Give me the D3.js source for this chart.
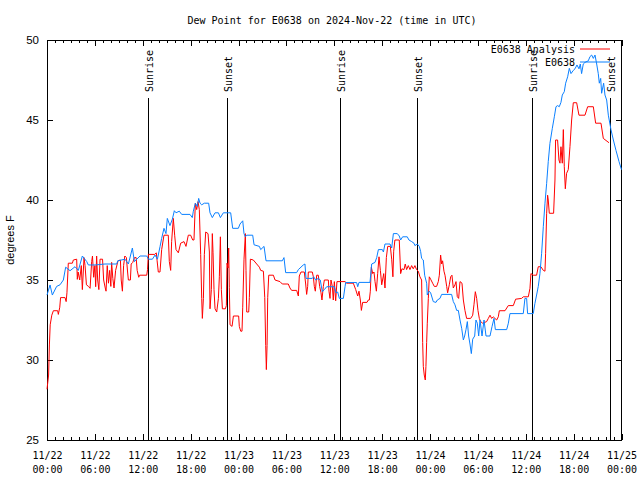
<!DOCTYPE html>
<html><head><meta charset="utf-8">
<script src="https://cdn.jsdelivr.net/npm/d3@7"></script>
<style>body{margin:0;background:#fff}svg{display:block}</style>
</head><body>
<svg id="c" width="640" height="480"></svg>
<script>
const title = "Dew Point for E0638 on 2024-Nov-22 (time in UTC)";
const yLabel = "degrees F";
const seriesNames = ["E0638 Analysis", "E0638"];
const seriesColors = ["#ff0000", "#0a80ff"];

// hours since 2024-11-22 00:00 UTC
const redHours = [0,0.2,0.3,0.4,0.6,0.8,1.34,1.42,1.6,1.7,2.26,2.4,2.5,2.67,3.18,3.3,3.72,3.8,3.9,4.1,4.3,4.43,4.64,4.77,4.94,5.2,5.4,5.6,5.7,5.85,6.0,6.1,6.22,6.35,6.5,6.65,6.96,7.1,7.3,7.4,7.55,7.7,7.85,8.0,8.1,8.25,8.4,8.6,8.9,9.2,9.3,9.45,9.6,9.75,9.95,10.1,10.2,10.45,10.55,10.75,10.96,11.17,11.3,11.5,11.6,12.5,12.6,12.7,13.5,13.7,13.8,13.95,14.16,14.37,14.66,15.2,15.33,15.5,15.62,15.83,16.0,16.17,16.46,16.75,17.17,17.42,17.71,18.0,18.26,18.42,18.59,18.76,18.93,19.09,19.26,19.39,19.47,19.6,19.72,19.89,20.18,20.35,20.43,20.6,20.72,20.81,20.93,21.06,21.27,21.48,21.6,21.73,21.85,21.98,22.35,22.48,22.56,22.69,22.77,22.85,22.94,23.19,23.36,24.02,24.1,24.28,24.44,24.53,24.69,24.86,24.94,25.03,25.28,25.36,25.49,25.86,26.28,26.62,26.78,27.12,27.29,27.41,27.49,27.58,27.66,27.79,28.37,28.58,29.2,29.49,30.24,30.45,30.66,31.29,31.5,31.62,31.83,32.25,32.42,32.54,32.67,32.75,33.25,33.38,33.5,33.63,33.8,34.0,34.17,34.34,34.46,34.63,34.76,35.26,35.34,35.47,35.59,35.76,35.88,36.01,36.18,36.34,37.35,37.56,38.39,38.69,38.94,39.1,39.27,39.4,39.56,40.1,40.27,40.4,40.52,40.65,40.82,40.98,41.11,41.28,41.44,41.61,41.78,41.95,42.2,42.36,42.53,42.7,43.03,43.2,43.35,43.45,43.6,44.15,44.32,44.48,44.74,44.9,45.07,45.28,45.49,45.7,45.9,46.11,46.32,46.53,46.74,46.95,46.99,47.08,47.16,47.28,47.41,47.49,47.58,47.66,47.79,47.91,48.08,48.33,48.54,48.83,49.04,49.17,49.33,49.46,49.58,49.75,49.88,50.09,50.21,50.42,50.59,50.75,50.92,51.13,51.26,51.42,51.59,51.76,52.01,52.18,52.38,52.59,53.1,53.35,53.51,53.68,53.85,54.01,54.18,54.35,54.6,55.1,55.31,55.52,55.73,55.93,56.14,56.35,56.56,56.69,57.4,57.81,58.44,58.73,59.48,59.69,60.32,60.53,60.65,60.94,61.36,61.57,61.9,62.2,62.41,62.49,62.62,62.74,62.82,62.95,63.49,63.66,63.74,63.99,64.16,64.29,64.41,64.58,64.71,64.83,64.96,65.12,65.33,65.54,65.75,65.96,66.38,66.67,67.42,67.76,68.47,68.76,69.43,69.72,70.43];
const redValues = [28.17,29.06,30.94,32.2,32.8,33.08,33.08,32.85,33.3,33.9,33.9,33.65,34.2,36.05,36.05,36.25,36.3,35.04,35.5,35.0,35.9,34.4,36.4,35.9,34.7,34.6,34.48,36.15,36.5,35.17,35.9,34.58,36.5,35.0,34.4,36.3,36.3,35.0,34.5,34.3,35.9,34.8,35.6,34.6,36.1,35.1,34.5,35.6,36.2,36.25,35.0,34.3,35.9,36.5,36.4,35.5,35.0,35.0,36.0,36.1,36.4,36.4,35.6,35.17,35.3,35.3,35.65,36.6,36.6,36.7,36.2,35.5,35.5,36.9,37.8,37.8,36.15,35.6,37.4,38.85,37.8,36.9,36.7,37.3,37.4,37.1,37.8,37.8,37.5,37.5,39.8,39.4,39.9,39.4,36.6,33.85,32.6,33.85,36.6,38.0,37.9,36.75,33.2,34.4,37.9,36.7,34.4,33.2,33.0,33.85,35.2,37.7,34.4,33.2,33.2,33.4,36.05,35.75,37.0,34.55,32.2,32.1,32.75,32.75,32.1,31.8,31.8,33.3,36.3,37.9,35.6,33.0,33.0,33.9,36.3,36.25,36.0,35.8,35.6,35.55,33.9,30.9,29.4,30.9,33.9,35.3,35.3,35.0,34.9,34.75,34.75,34.5,34.35,34.35,34.0,35.25,35.5,35.5,34.75,34.1,34.6,35.5,35.5,35.2,34.6,34.3,35.3,35.3,34.6,34.2,33.75,34.6,35.0,35.0,34.3,33.85,35.0,34.6,33.75,34.9,33.7,34.9,34.9,34.8,34.8,34.4,34.0,34.3,33.75,33.1,33.6,33.6,33.75,33.75,34.3,35.8,35.4,35.5,34.9,34.3,35.4,36.45,35.6,34.7,35.4,34.5,36.4,37.1,37.1,36.3,35.2,36.8,37.5,37.5,35.4,35.7,35.65,36.0,35.65,35.9,35.65,35.9,35.7,35.9,35.65,35.55,35.2,35.0,33.75,31.1,29.6,29.06,28.75,29.6,31.1,32.3,33.85,35.2,35.05,34.8,34.6,34.6,34.9,35.3,36.56,36.0,36.2,35.55,35.3,34.6,34.2,34.7,35.2,35.3,34.5,34.7,34.9,33.96,33.85,34.9,34.8,33.75,33.1,32.6,32.6,32.8,33.45,34.27,33.85,33.1,32.6,32.4,32.3,32.4,32.6,32.8,32.6,32.7,32.6,32.5,32.7,33.08,33.08,33.4,33.4,33.8,33.85,33.95,33.95,34.48,35.4,35.3,35.3,35.83,35.83,35.6,35.55,36.67,39.17,40.3,40.0,39.17,39.17,41.25,43.75,43.75,42.5,42.3,43.33,42.3,44.4,42.08,40.7,41.67,41.9,43.33,45.0,46.08,46.08,45.3,45.3,45.83,45.83,44.8,44.8,43.85,43.58];

const blueHours = [0,0.38,0.67,1.21,1.63,2.05,2.34,2.89,3.51,3.93,4.43,4.98,5.18,6.02,7.27,8.74,8.86,9.78,10.2,10.7,10.95,11.66,12.5,12.71,13.21,13.54,13.84,14.17,14.37,14.66,14.91,15.08,15.41,15.71,15.96,16.17,16.58,16.88,17.92,18.21,18.34,18.59,18.84,19.01,19.18,19.39,19.72,20.26,20.43,20.72,21.06,21.48,21.73,22.1,23.02,23.27,23.98,24.19,24.53,24.69,24.86,25.03,25.78,25.95,26.62,26.78,27.2,27.45,29.49,29.7,29.91,31.29,31.5,32.12,32.33,32.46,33.25,33.42,33.67,34.0,34.25,34.5,34.76,35.05,36.01,36.22,36.43,36.64,37.14,37.35,37.43,38.81,38.94,39.1,40.48,40.69,41.11,41.32,41.53,42.03,42.16,42.36,42.99,43.2,43.41,43.9,44.15,44.32,44.57,45.15,45.36,45.7,45.99,46.11,46.41,46.66,46.83,46.95,47.16,47.33,47.58,47.66,47.91,48.08,48.41,48.75,48.92,49.25,49.46,50.71,50.92,51.13,51.34,51.55,51.76,51.97,52.18,52.34,52.51,52.68,52.84,53.01,53.18,53.35,53.6,53.76,53.93,54.1,54.27,54.52,54.77,55.02,55.52,55.77,56.02,56.19,57.61,57.82,58.02,59.69,59.9,60.11,60.23,60.94,61.15,61.36,61.57,61.78,61.99,62.2,62.41,62.62,62.82,63.03,63.33,63.58,63.79,63.99,64.2,64.41,64.58,64.83,65.0,65.25,65.46,65.67,65.96,66.17,66.42,66.67,66.84,67.0,67.21,67.42,67.84,68.05,68.26,68.47,68.68,68.89,69.09,69.22,69.39,69.51,69.76,69.93,70.14,70.35,70.68,70.98,71.31,71.69,72.0];
const blueValues = [34.06,34.69,34.06,34.6,34.7,35.0,35.8,35.58,35.83,35.6,36.5,36.15,35.94,35.94,36.0,36.0,36.2,36.3,36.0,37.0,36.15,36.5,36.5,36.3,36.3,36.56,36.3,37.1,37.6,38.23,37.9,38.85,38.4,38.8,39.33,39.2,39.3,39.1,39.1,38.9,39.3,39.8,39.6,40.1,39.8,39.7,39.8,39.8,39.2,38.9,39.2,39.2,38.9,39.2,39.2,38.23,38.23,38.5,38.7,37.9,37.7,37.8,37.8,37.2,37.1,36.9,37.1,36.2,36.2,36.4,35.46,35.46,35.65,35.94,36.0,35.1,35.1,35.2,35.0,35.1,35.0,34.27,34.4,34.58,34.58,34.2,34.25,33.85,33.85,34.58,34.84,34.84,34.58,34.85,34.85,36.0,36.1,36.4,36.9,36.9,36.75,37.25,37.25,37.0,37.9,37.9,37.75,37.5,37.7,37.7,37.5,37.4,37.3,37.15,37.25,37.1,36.77,36.35,36.25,35.3,34.8,34.06,34.3,34.2,33.65,33.6,33.75,33.85,34.1,34.1,33.65,33.45,33.1,33.1,32.5,31.98,31.25,31.5,31.9,32.4,31.5,31.0,30.4,31.3,31.5,32.5,32.3,31.5,32.5,31.5,32.5,31.5,31.5,32.08,32.6,31.9,31.9,32.3,32.9,32.9,33.85,33.85,32.9,32.9,33.54,34.06,34.6,35.4,36.67,38.33,39.8,41.04,42.4,43.54,44.48,45.2,45.83,45.9,45.83,46.1,46.56,46.77,47.3,47.7,48.23,47.9,48.1,48.2,48.44,48.2,48.5,47.9,48.5,48.6,48.7,48.96,49.06,48.85,49.06,48.5,47.9,47.3,47.6,46.67,47.3,46.56,46.25,45.3,44.4,43.75,43.1,42.4,41.9];

const sunHours = [12.71, 22.53, 36.77, 46.42, 60.84, 70.5];
const sunLabels = ["Sunrise", "Sunset", "Sunrise", "Sunset", "Sunrise", "Sunset"];
const yTicks = [25, 30, 35, 40, 45, 50];
const xTickHours = [0, 6, 12, 18, 24, 30, 36, 42, 48, 54, 60, 66, 72];

const MONO = "'DejaVu Sans Mono', 'Liberation Mono', monospace";
const SANS = "'Liberation Sans', Arial, sans-serif";
const t0 = Date.UTC(2024, 10, 22);
const toDate = h => new Date(t0 + h * 3600e3);
const L = 47, R = 621.5, T = 40, B = 440;

const svg = d3.select("#c");
const x = d3.scaleUtc().domain([toDate(0), toDate(72)]).range([L, R]);
const y = d3.scaleLinear().domain([25, 50]).range([B, T]);

// frame
svg.append("rect").attr("x", L).attr("y", T).attr("width", R - L).attr("height", B - T)
  .attr("fill", "none").attr("stroke", "#000").attr("stroke-width", 1).attr("shape-rendering", "crispEdges");

// x axis ticks (inward, bottom and top)
const xMinor = d3.range(0, 73, 1).map(toDate);
const gxb = svg.append("g").attr("transform", `translate(0,${B})`)
  .call(d3.axisBottom(x).tickValues(xMinor).tickSize(-3).tickFormat(""));
const gxb2 = svg.append("g").attr("transform", `translate(0,${B})`)
  .call(d3.axisBottom(x).tickValues(xTickHours.map(toDate)).tickSize(-6).tickPadding(12)
    .tickFormat(d3.utcFormat("%m/%d")));
const gxt = svg.append("g").attr("transform", `translate(0,${T})`)
  .call(d3.axisTop(x).tickValues(xMinor).tickSize(-3).tickFormat(""));
const gxt2 = svg.append("g").attr("transform", `translate(0,${T})`)
  .call(d3.axisTop(x).tickValues(xTickHours.map(toDate)).tickSize(-6).tickFormat(""));
[gxb, gxb2, gxt, gxt2].forEach(g => {
  g.select(".domain").remove();
  g.selectAll("line").attr("shape-rendering", "crispEdges");
});
gxb2.selectAll("text").each(function(d) {
  const t = d3.select(this);
  t.text(null).attr("font-family", MONO).attr("font-size", 10).attr("fill", "#000").attr("y", 19);
  t.append("tspan").attr("x", 0).attr("dy", 0).text(d3.utcFormat("%m/%d")(d));
  t.append("tspan").attr("x", 0).attr("dy", 14).text(d3.utcFormat("%H:%M")(d));
});

// y axis
const gyl = svg.append("g").attr("transform", `translate(${L},0)`)
  .call(d3.axisLeft(y).tickValues(yTicks).tickSize(-6).tickPadding(8).tickFormat(d3.format("d")));
const gyr = svg.append("g").attr("transform", `translate(${R},0)`)
  .call(d3.axisRight(y).tickValues(yTicks).tickSize(-6).tickFormat(""));
[gyl, gyr].forEach(g => {
  g.select(".domain").remove();
  g.selectAll("line").attr("shape-rendering", "crispEdges");
});
gyl.selectAll("text").attr("font-family", SANS).attr("font-size", 11.5).attr("fill", "#000");

svg.append("text").attr("transform", `translate(14,${(T + B) / 2}) rotate(-90)`)
  .attr("text-anchor", "middle").attr("font-family", SANS).attr("font-size", 11).text(yLabel);

// title
svg.append("text").attr("x", 332).attr("y", 24).attr("text-anchor", "middle")
  .attr("font-family", MONO).attr("font-size", 10).text(title);

// sunrise / sunset
const sun = svg.append("g");
sunHours.forEach((h, i) => {
  const xx = Math.round(x(toDate(h))) + 0.5;
  sun.append("line").attr("x1", xx).attr("x2", xx).attr("y1", 98).attr("y2", B)
    .attr("stroke", "#000").attr("stroke-width", 1);
  sun.append("text").attr("transform", `translate(${xx + 4},92) rotate(-90)`)
    .attr("font-family", MONO).attr("font-size", 10).text(sunLabels[i]);
});

// series
const line = d3.line().x(d => x(toDate(d[0]))).y(d => y(d[1]));
const redData = redHours.map((h, i) => [h, redValues[i]]);
const blueData = blueHours.map((h, i) => [h, blueValues[i]]);
svg.append("path").datum(redData).attr("d", line).attr("fill", "none")
  .attr("stroke", seriesColors[0]).attr("stroke-width", 1);
svg.append("path").datum(blueData).attr("d", line).attr("fill", "none")
  .attr("stroke", seriesColors[1]).attr("stroke-width", 1);

// legend
const leg = svg.append("g");
[0, 1].forEach(i => {
  const ly = 49 + i * 13;
  leg.append("text").attr("x", 575).attr("y", ly + 4).attr("text-anchor", "end")
    .attr("font-family", MONO).attr("font-size", 10).text(seriesNames[i]);
  leg.append("line").attr("x1", 580).attr("x2", 610).attr("y1", ly).attr("y2", ly)
    .attr("stroke", seriesColors[i]).attr("stroke-width", 1);
});
</script>
</body></html>
